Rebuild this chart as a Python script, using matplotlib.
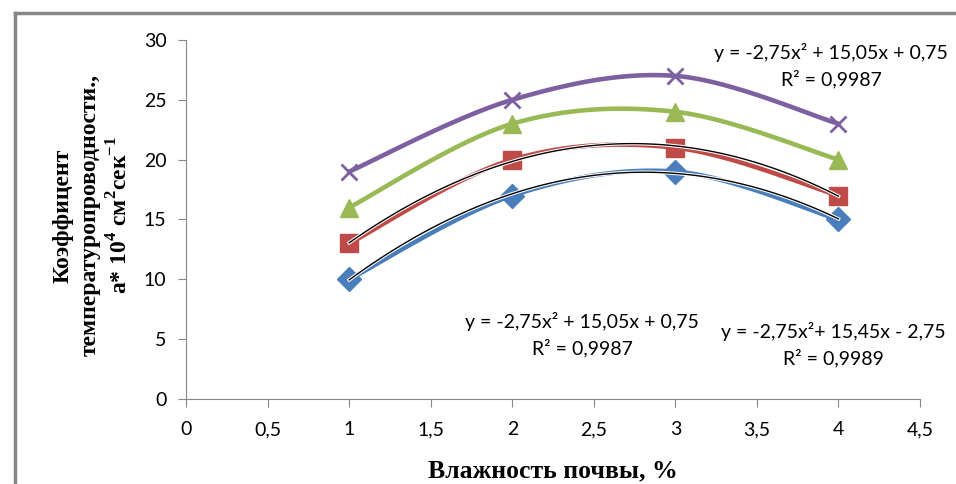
import numpy as np
import matplotlib
matplotlib.use('Agg')
import matplotlib.pyplot as plt
from matplotlib.lines import Line2D
from matplotlib.ticker import MultipleLocator, FuncFormatter
import matplotlib.patheffects as pe

moisture = [1, 2, 3, 4]
s_blue = [10, 17, 19, 15]
s_red = [13, 20, 21, 17]
s_green = [16, 23, 24, 20]
s_purple = [19, 25, 27, 23]

eq_top = "y = -2,75x² + 15,05x + 0,75\nR² = 0,9987"
eq_mid = "y = -2,75x² + 15,05x + 0,75\nR² = 0,9987"
eq_right = "y = -2,75x²+ 15,45x - 2,75\nR² = 0,9989"

plt.rcParams['mathtext.fontset'] = 'custom'
plt.rcParams['mathtext.rm'] = 'Liberation Serif:bold'
plt.rcParams['mathtext.bf'] = 'Liberation Serif:bold'

def smooth(x, y, n=30):
    # Excel-like smoothed line (Catmull-Rom style Bezier)
    x = np.asarray(x, float); y = np.asarray(y, float)
    px = np.concatenate([[x[0]], x, [x[-1]]])
    py = np.concatenate([[y[0]], y, [y[-1]]])
    ox, oy = [], []
    t = np.linspace(0, 1, n)
    for i in range(1, len(px) - 2):
        p0 = np.array([px[i], py[i]]); p3 = np.array([px[i+1], py[i+1]])
        p1 = p0 + (np.array([px[i+1], py[i+1]]) - np.array([px[i-1], py[i-1]])) / 6
        p2 = p3 - (np.array([px[i+2], py[i+2]]) - np.array([px[i], py[i]])) / 6
        b = ((1-t)**3)[:, None]*p0 + (3*(1-t)**2*t)[:, None]*p1 + (3*(1-t)*t**2)[:, None]*p2 + (t**3)[:, None]*p3
        ox.extend(b[:, 0]); oy.extend(b[:, 1])
    return ox, oy

fig = plt.figure(figsize=(9.56, 4.84), dpi=100)
ax = fig.add_axes([0.1946, 0.1756, 0.7678, 0.7418])

series = [
    (s_blue, '#4A7EBB', 'D', 12),
    (s_red, '#BE4B48', 's', 12.5),
    (s_green, '#98B954', '^', 13),
    (s_purple, '#7D60A0', 'x', 12),
]
for vals, col, mk, ms in series:
    sx, sy = smooth(moisture, vals)
    ax.plot(sx, sy, '-', color=col, lw=3.3, solid_capstyle='round', zorder=3)
    ax.plot(moisture, vals, linestyle='none', marker=mk, color=col, ms=ms,
            mew=2 if mk == 'x' else 1, zorder=4)

# polynomial trendlines
xx = np.linspace(1, 4, 100)
for vals in (s_blue, s_red):
    c = np.polyfit(moisture, vals, 2)
    ax.plot(xx, np.polyval(c, xx), color='black', lw=1, zorder=5,
            path_effects=[pe.Stroke(linewidth=2.5, foreground='white'), pe.Normal()])

ax.set_xlim(0, 4.5)
ax.set_ylim(0, 30)
ax.xaxis.set_major_locator(MultipleLocator(0.5))
ax.yaxis.set_major_locator(MultipleLocator(5))
ax.xaxis.set_major_formatter(FuncFormatter(lambda v, p: ('%g' % v).replace('.', ',')))
for sp in ['top', 'right']:
    ax.spines[sp].set_visible(False)
for sp in ['left', 'bottom']:
    ax.spines[sp].set_color('#868686')
ax.tick_params(axis='both', colors='#868686', labelcolor='black', length=6, labelsize=14)
ax.tick_params(axis='y', pad=8)
ax.tick_params(axis='x', pad=10)
for lab in ax.get_xticklabels() + ax.get_yticklabels():
    lab.set_family('Lato')

ax.text(3.954, 27.83, eq_top, ha='center', va='center', fontsize=14, family='Lato', linespacing=1.5)
ax.text(2.428, 5.39, eq_mid, ha='center', va='center', fontsize=14, family='Lato', linespacing=1.5)
ax.text(3.967, 4.51, eq_right, ha='center', va='center', fontsize=14, family='Lato', linespacing=1.5)

fig.text(0.578, 0.027, "Влажность почвы, %", ha='center', va='center',
         fontsize=18.5, fontweight='bold', family='Liberation Serif')
fig.text(0.097, 0.555, "Коэффицент\nтемпературопроводности.,\nа* 10$^{4}$ см$^{2}$сек$^{-1}$",
         ha='center', va='center', rotation=90, fontsize=17, fontweight='bold',
         family='Liberation Serif', linespacing=1.35)

# chart border
fig.add_artist(Line2D([15/956, 15/956], [0, 1 - 13/484], color='#868686', lw=2.5, transform=fig.transFigure))
fig.add_artist(Line2D([15/956, 1], [1 - 13/484, 1 - 13/484], color='#868686', lw=2.5, transform=fig.transFigure))

fig.savefig('out.png', dpi=100)
